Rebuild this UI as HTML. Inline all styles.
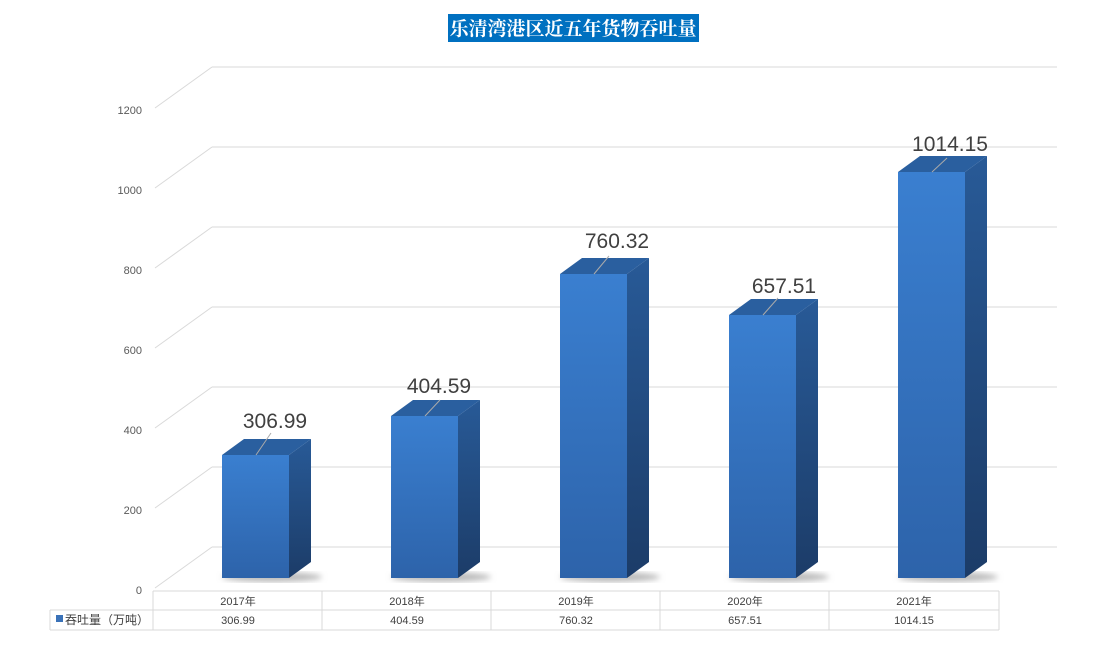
<!DOCTYPE html><html><head><meta charset="utf-8"><style>
body{margin:0;background:#fff;width:1096px;height:641px;overflow:hidden;font-family:"Liberation Sans","Noto Sans CJK SC",sans-serif}
</style></head><body>
<svg width="1096" height="641" xmlns="http://www.w3.org/2000/svg" font-family="Liberation Sans, Noto Sans CJK SC, sans-serif">
<defs>
<linearGradient id="f" x1="0" y1="0" x2="0" y2="1"><stop offset="0" stop-color="#3a7fd0"/><stop offset="1" stop-color="#2d63aa"/></linearGradient>
<linearGradient id="s" x1="0" y1="0" x2="0" y2="1"><stop offset="0" stop-color="#285a97"/><stop offset="1" stop-color="#1c3c68"/></linearGradient>
<filter id="b"><feGaussianBlur stdDeviation="3"/></filter>
</defs>
<rect x="448" y="14" width="251" height="28" fill="#0070c0"/>
<text x="573" y="35" font-size="19" font-weight="bold" fill="#fff" text-anchor="middle" font-family="Noto Serif CJK SC, serif">乐清湾港区近五年货物吞吐量</text>
<g stroke="#d9d9d9" stroke-width="1" fill="none">
<line x1="212" y1="547" x2="1057" y2="547"/><line x1="155" y1="588" x2="212" y2="547"/>
<line x1="212" y1="467" x2="1057" y2="467"/><line x1="155" y1="508" x2="212" y2="467"/>
<line x1="212" y1="387" x2="1057" y2="387"/><line x1="155" y1="428" x2="212" y2="387"/>
<line x1="212" y1="307" x2="1057" y2="307"/><line x1="155" y1="348" x2="212" y2="307"/>
<line x1="212" y1="227" x2="1057" y2="227"/><line x1="155" y1="268" x2="212" y2="227"/>
<line x1="212" y1="147" x2="1057" y2="147"/><line x1="155" y1="188" x2="212" y2="147"/>
<line x1="212" y1="67" x2="1057" y2="67"/><line x1="155" y1="108" x2="212" y2="67"/>
</g>
<g font-size="11" fill="#595959" text-anchor="end">
<text x="142" y="594">0</text><text x="142" y="514">200</text><text x="142" y="434">400</text><text x="142" y="354">600</text><text x="142" y="274">800</text><text x="142" y="194">1000</text><text x="142" y="114">1200</text>
</g>
<g>
<ellipse cx="272" cy="577" rx="50" ry="5" fill="#bbb" filter="url(#b)"/>
<polygon points="289,455 311,439 311,562 289,578" fill="url(#s)"/><polygon points="222,455 244,439 311,439 289,455" fill="#2a5f9f"/><rect x="222" y="455" width="67" height="123" fill="url(#f)"/>
<line x1="256" y1="455" x2="271" y2="433" stroke="#aaa"/><text x="275" y="428" font-size="21" fill="#404040" text-anchor="middle">306.99</text>
</g>
<g>
<ellipse cx="441" cy="577" rx="50" ry="5" fill="#bbb" filter="url(#b)"/>
<polygon points="458,416 480,400 480,562 458,578" fill="url(#s)"/><polygon points="391,416 413,400 480,400 458,416" fill="#2a5f9f"/><rect x="391" y="416" width="67" height="162" fill="url(#f)"/>
<line x1="425" y1="416" x2="440" y2="400" stroke="#aaa"/><text x="439" y="393" font-size="21" fill="#404040" text-anchor="middle">404.59</text>
</g>
<g>
<ellipse cx="610" cy="577" rx="50" ry="5" fill="#bbb" filter="url(#b)"/>
<polygon points="627,274 649,258 649,562 627,578" fill="url(#s)"/><polygon points="560,274 582,258 649,258 627,274" fill="#2a5f9f"/><rect x="560" y="274" width="67" height="304" fill="url(#f)"/>
<line x1="594" y1="274" x2="609" y2="256" stroke="#aaa"/><text x="617" y="248" font-size="21" fill="#404040" text-anchor="middle">760.32</text>
</g>
<g>
<ellipse cx="779" cy="577" rx="50" ry="5" fill="#bbb" filter="url(#b)"/>
<polygon points="796,315 818,299 818,562 796,578" fill="url(#s)"/><polygon points="729,315 751,299 818,299 796,315" fill="#2a5f9f"/><rect x="729" y="315" width="67" height="263" fill="url(#f)"/>
<line x1="763" y1="315" x2="778" y2="298" stroke="#aaa"/><text x="784" y="293" font-size="21" fill="#404040" text-anchor="middle">657.51</text>
</g>
<g>
<ellipse cx="948" cy="577" rx="50" ry="5" fill="#bbb" filter="url(#b)"/>
<polygon points="965,172 987,156 987,562 965,578" fill="url(#s)"/><polygon points="898,172 920,156 987,156 965,172" fill="#2a5f9f"/><rect x="898" y="172" width="67" height="406" fill="url(#f)"/>
<line x1="932" y1="172" x2="947" y2="158" stroke="#aaa"/><text x="950" y="151" font-size="21" fill="#404040" text-anchor="middle">1014.15</text>
</g>
<g stroke="#d9d9d9" fill="none">
<line x1="153" y1="591" x2="999" y2="591"/><line x1="50" y1="610" x2="999" y2="610"/><line x1="50" y1="630" x2="999" y2="630"/>
<line x1="50" y1="610" x2="50" y2="630"/><line x1="153" y1="591" x2="153" y2="630"/><line x1="322" y1="591" x2="322" y2="630"/><line x1="491" y1="591" x2="491" y2="630"/><line x1="660" y1="591" x2="660" y2="630"/><line x1="829" y1="591" x2="829" y2="630"/><line x1="999" y1="591" x2="999" y2="630"/>
</g>
<g font-size="11" fill="#404040" text-anchor="middle">
<text x="238" y="605">2017年</text><text x="407" y="605">2018年</text><text x="576" y="605">2019年</text><text x="745" y="605">2020年</text><text x="914" y="605">2021年</text>
<text x="238" y="624">306.99</text><text x="407" y="624">404.59</text><text x="576" y="624">760.32</text><text x="745" y="624">657.51</text><text x="914" y="624">1014.15</text>
</g>
<rect x="56" y="615" width="7" height="7" fill="#3a72b8"/>
<text x="65" y="624" font-size="12" fill="#404040">吞吐量（万吨）</text>
</svg>
</body></html>
